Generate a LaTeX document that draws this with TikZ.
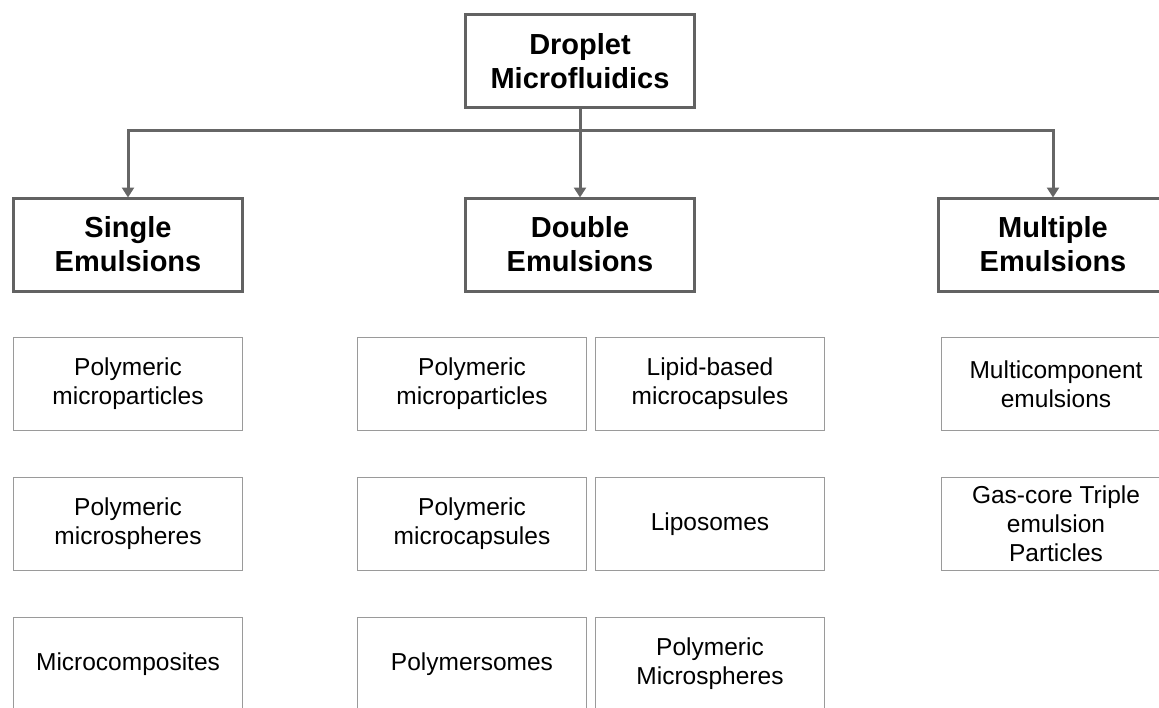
\documentclass[tikz,border=0pt]{standalone}
\usepackage{fontspec}
\setmainfont{Liberation Sans}
\usetikzlibrary{arrows.meta}
\definecolor{hdrline}{HTML}{626262}
\definecolor{subline}{HTML}{9A9A9A}
\definecolor{connline}{HTML}{666666}
\tikzset{
  hdrbox/.style={draw=hdrline, line width=3pt, fill=white, minimum width=229pt, minimum height=93pt,
    inner sep=0pt, align=center, font=\fontsize{29}{34}\selectfont\bfseries},
  subbox/.style={draw=subline, line width=1.5pt, fill=white, minimum width=229pt, minimum height=93pt,
    inner sep=0pt, align=center, font=\fontsize{24.5}{29}\selectfont},
  conn/.style={draw=connline, line width=3pt},
  arr/.style={conn, -{Triangle[width=12pt,length=10pt]}, shorten >=-1pt},
}
\begin{document}
\begin{tikzpicture}[x=1pt,y=-1pt]
\useasboundingbox (0,0) rectangle (1159,707);
\clip (0,0) rectangle (1159,707);
\node[hdrbox] (top) at (580,61) {Droplet\\Microfluidics};
\node[hdrbox] (single) at (128,244.5) {Single\\Emulsions};
\node[hdrbox] (double) at (580,244.5) {Double\\Emulsions};
\node[hdrbox] (multiple) at (1053,244.5) {Multiple\\Emulsions};
\coordinate (hub) at (580,130.5);
\draw[conn] (top.south) -- (hub);
\draw[arr] (hub) -| (single.north);
\draw[arr] (hub) -| (multiple.north);
\draw[arr] (hub) -- (double.north);
% Single column
\node[subbox] (s1) at (128,384) {Polymeric\\microparticles};
\node[subbox] (s2) at (128,524) {Polymeric\\microspheres};
\node[subbox] (s3) at (128,664) {Microcomposites};
% Double columns
\node[subbox] (d1) at (472,384) {Polymeric\\microparticles};
\node[subbox] (d2) at (710,384) {Lipid-based\\microcapsules};
\node[subbox] (d3) at (472,524) {Polymeric\\microcapsules};
\node[subbox] (d4) at (710,524) {Liposomes};
\node[subbox] (d5) at (472,664) {Polymersomes};
\node[subbox] (d6) at (710,664) {Polymeric\\Microspheres};
% Multiple column
\node[subbox] (m1) at (1056,384) {Multicomponent\\emulsions};
\node[subbox] (m2) at (1056,524) {Gas-core Triple\\emulsion\\Particles};
\end{tikzpicture}
\end{document}
